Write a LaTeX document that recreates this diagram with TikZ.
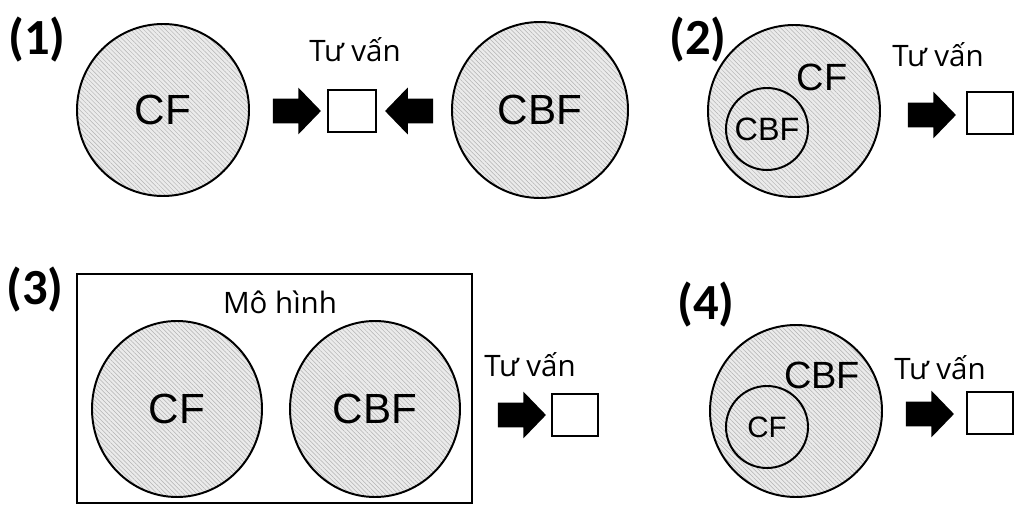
\documentclass[tikz,border=0pt]{standalone}
\usepackage{fontspec}
\setmainfont{Liberation Sans}
\newfontfamily\captfont{Open Sans}
\newfontfamily\tagfont{Carlito}
\usetikzlibrary{shapes.arrows,shapes.geometric,patterns.meta}

\begin{document}
\begin{tikzpicture}[
  x=0.25mm, y=-0.25mm,
  hatch/.style={preaction={fill=black!8},
                pattern={Lines[angle=-45, distance=2.2pt, line width=0.35pt]},
                pattern color=black!30},
  set/.style={circle, draw, hatch, line width=1.4pt, inner sep=0pt},
  bigset/.style={set, minimum size=43mm, font=\fontsize{30}{36}\selectfont},
  subset/.style={set, minimum size=20.5mm},
  oval/.style={ellipse, draw, hatch, line width=1.4pt, inner sep=0pt,
               minimum width=42.5mm, minimum height=44mm,
               font=\fontsize{30}{36}\selectfont},
  outbox/.style={draw, line width=1.4pt, fill=white, minimum width=12mm,
                 minimum height=10.3mm, inner sep=0pt},
  push/.style={single arrow, fill=black, draw=none, inner sep=0pt,
               single arrow head extend=2.8mm, single arrow tip angle=92,
               minimum height=12mm},
  tag/.style={font=\tagfont\bfseries\fontsize{36}{40}\selectfont},
  lbl/.style={font=\captfont\fontsize{21}{25}\selectfont}
]
\useasboundingbox (0,0) rectangle (1019,507);

% ---- (1): CF and CBF side by side ---------------------------------------
\node[tag] (t1) at (37,40) {(1)};
\node[bigset] (cf1) at (163,110) {CF};
\node[bigset, minimum size=44mm] (cbf1) at (540,110) {CBF};
\node[outbox] (out1) at (352,111) {};
\node[lbl] at (355,50) {Tư vấn};
\node[push] (a1) at (291,111) {\rule{0pt}{6mm}};
\node[push, shape border rotate=180] (b1) at (415,111) {\rule{0pt}{6mm}};

% ---- (2): CBF inside CF -------------------------------------------------
\node[tag] (t2) at (698,40) {(2)};
\node[bigset] (cf2) at (794,111) {};
\node[subset, font=\fontsize{23}{27}\selectfont] (cbf2) at (767,129) {CBF};
\node[font=\fontsize{27}{32}\selectfont] at (822,77) {CF};
\node[outbox, minimum width=11.5mm] (out2) at (990,113) {};
\node[lbl] at (938,55) {Tư vấn};
\node[push] (a2) at (926,115) {\rule{0pt}{6mm}};

% ---- (3): both inside one model ----------------------------------------
\node[tag] (t3) at (35,290) {(3)};
\node[draw, line width=1.6pt, minimum width=98.75mm, minimum height=57.25mm,
      inner sep=0pt] (model) at (274.5,388.5) {};
\node[lbl] at (280,302) {Mô hình};
\node[oval] (cf3) at (177,409) {CF};
\node[oval] (cbf3) at (375,409) {CBF};
\node[outbox, minimum width=11.5mm] (out3) at (575,415) {};
\node[lbl] at (530,365) {Tư vấn};
\node[push] (a3) at (516,415) {\rule{0pt}{6mm}};

% ---- (4): CF inside CBF -------------------------------------------------
\node[tag] (t4) at (706,305) {(4)};
\node[bigset] (cbf4) at (796,411) {};
\node[subset, font=\fontsize{21}{25}\selectfont] (cf4) at (767,427) {CF};
\node[font=\fontsize{27}{32}\selectfont] at (822,375) {CBF};
\node[outbox, minimum width=11.7mm] (out4) at (990,413) {};
\node[lbl] at (940,368) {Tư vấn};
\node[push] (a4) at (924,414) {\rule{0pt}{6mm}};
\end{tikzpicture}
\end{document}
